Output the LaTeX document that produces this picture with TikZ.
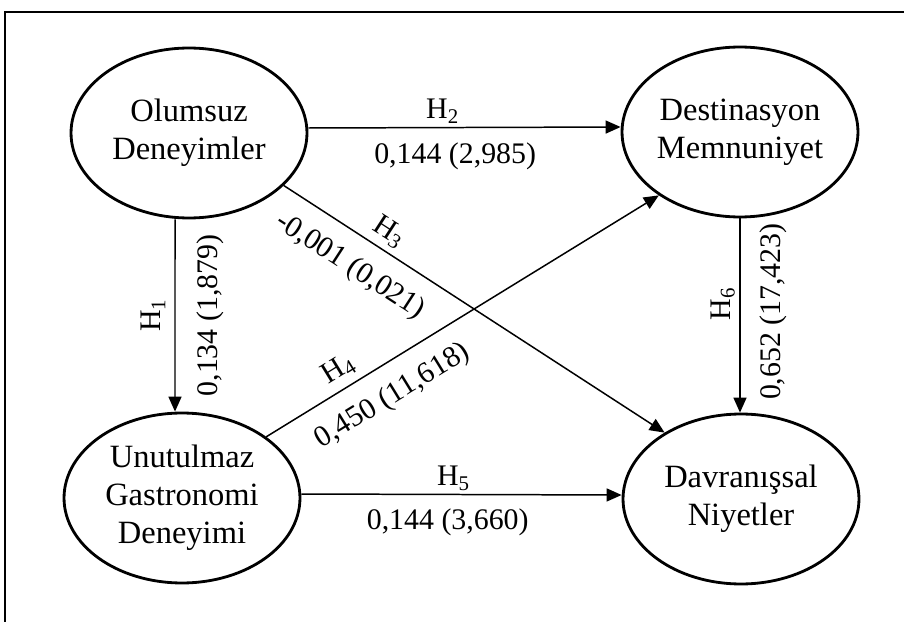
\documentclass[tikz,border=0pt]{standalone}
\usepackage{fontspec}
\setmainfont{Liberation Serif}
\usetikzlibrary{shapes.geometric,arrows.meta}

\begin{document}
\begin{tikzpicture}[x=0.02cm, y=-0.02cm,
        >={Triangle[length=3mm,width=2.6mm]},
        lat/.style={draw, ellipse, line width=1.6pt, minimum width=4.72cm, minimum height=3.4cm,
            inner sep=0pt, align=center, font=\fontsize{18.5}{21.6}\selectfont},
        hl/.style={font=\fontsize{17}{20}\selectfont, inner sep=2pt},
        vl/.style={font=\fontsize{17}{20}\selectfont, inner sep=8pt}]
        \useasboundingbox (0,0) rectangle (904,622);
        \draw[line width=1.7pt] (5,622) |- (904,12);
        \draw
            (189, 133) node[lat] (0){Olumsuz\\Deneyimler}
            (740, 132) node[lat] (1){Destinasyon\\Memnuniyet}
            (182, 498) node[lat] (2){Unutulmaz\\Gastronomi\\Deneyimi}
            (741, 499) node[lat] (3){Davranışsal\\Niyetler};
        \begin{scope}[->, line width=0.85pt]
            \draw ([xshift=-0.28cm]0.south) to
                node[hl, pos=0.5, rotate=90, anchor=south, inner sep=5pt] {H\textsubscript{1}}
                node[vl, pos=0.5, rotate=90, anchor=north, inner sep=12pt] {0,134 (1,879)}
                ([xshift=-0.14cm]2.north);
            \draw ([yshift=0.1cm]0.east) to
                node[hl, pos=0.43, above] {H\textsubscript{2}}
                node[vl, pos=0.47, below] {0,144 (2,985)}
                ([yshift=0.1cm]1.west);
            \draw (0.-29) to
                node[hl, pos=0.25, sloped, above, inner sep=3pt] {H\textsubscript{3}}
                node[vl, pos=0.22, sloped, below, inner sep=10pt] {-0,001 (0,021)}
                (3.139);
            \draw (2.36) to
                node[hl, pos=0.21, sloped, above, inner sep=4pt] {H\textsubscript{4}}
                node[vl, pos=0.28, sloped, below, inner sep=10pt] {0,450 (11,618)}
                (1.218);
            \draw ([yshift=0.08cm]2.east) to
                node[hl, pos=0.475, above] {H\textsubscript{5}}
                node[vl, pos=0.457, below] {0,144 (3,660)}
                ([yshift=0.08cm]3.west);
            \draw (1.south) to
                node[hl, pos=0.44, rotate=90, anchor=south, inner sep=2.5pt] {H\textsubscript{6}}
                node[vl, pos=0.48, rotate=90, anchor=north, inner sep=11pt] {0,652 (17,423)}
                (1.south |- 3.north);
        \end{scope}
\end{tikzpicture}
\end{document}
